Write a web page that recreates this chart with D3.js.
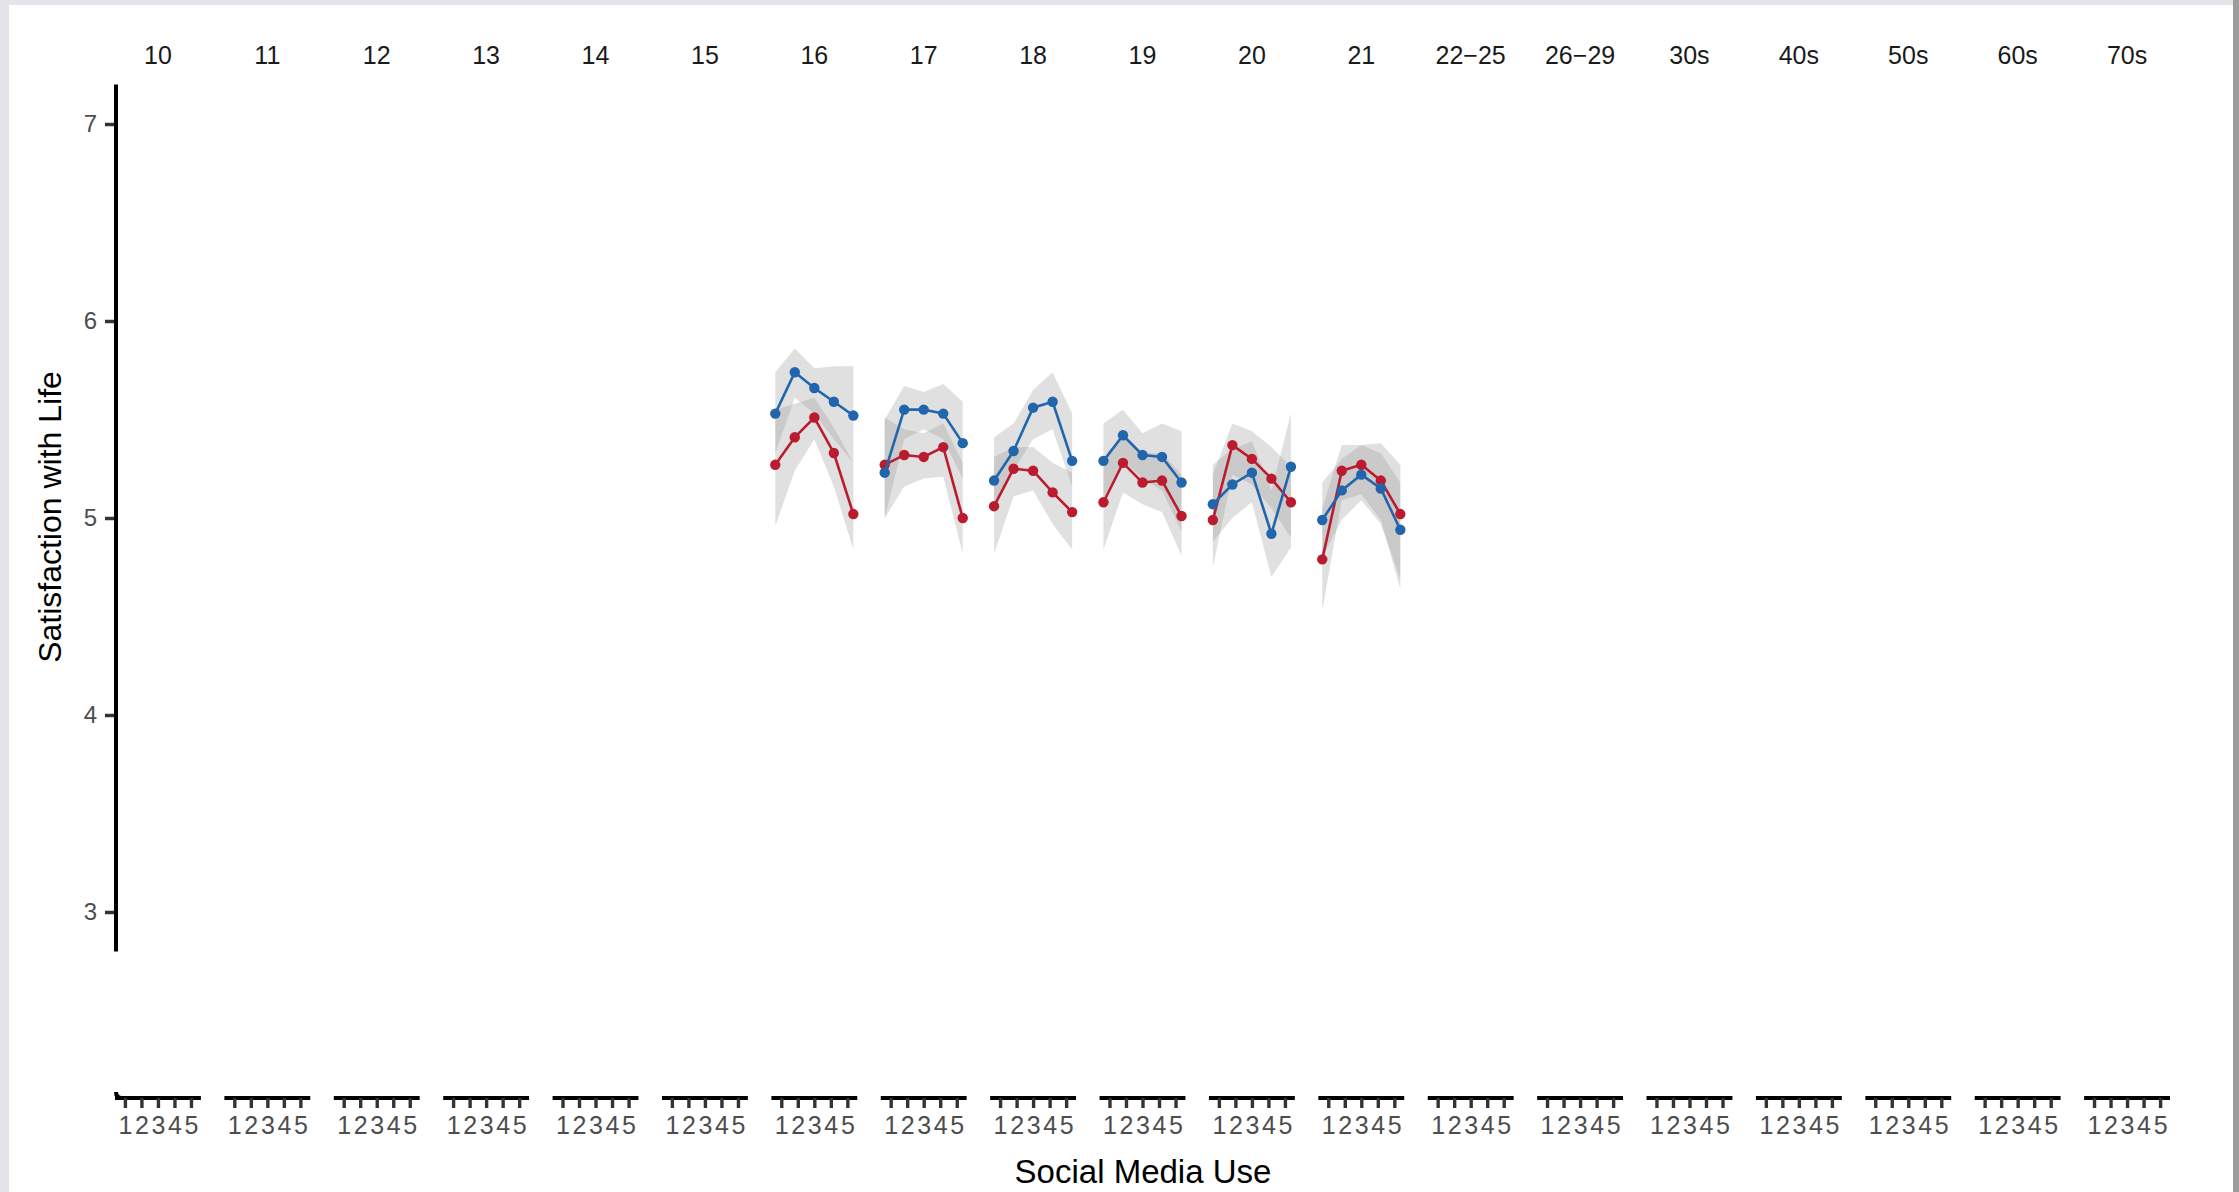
<!DOCTYPE html>
<html>
<head>
<meta charset="utf-8">
<script src="https://cdn.jsdelivr.net/npm/d3@7"></script>
<style>
  html, body { margin: 0; padding: 0; background: #ffffff; }
  svg { display: block; font-family: "Liberation Sans", Arial, Helvetica, sans-serif; }
</style>
</head>
<body>
<svg id="chart" width="2239" height="1192"></svg>
<script>
// Facet labels (age groups) across the top
const ageGroups = ["10", "11", "12", "13", "14", "15", "16", "17", "18", "19", "20", "21",
                   "22\u221225", "26\u221229", "30s", "40s", "50s", "60s", "70s"];
// Social media use levels (x within each facet)
const useLevels = [1, 2, 3, 4, 5];
// Y axis ticks
const yTicks = [3, 4, 5, 6, 7];

// Ages that carry observations
const observedAges = ["16", "17", "18", "19", "20", "21"];

// Blue series: mean and interval per age, one value per use level
const blueMean = [
  [5.53, 5.74, 5.66, 5.59, 5.52],
  [5.23, 5.55, 5.55, 5.53, 5.38],
  [5.19, 5.34, 5.56, 5.59, 5.29],
  [5.29, 5.42, 5.32, 5.31, 5.18],
  [5.07, 5.17, 5.23, 4.92, 5.26],
  [4.99, 5.14, 5.22, 5.15, 4.94]
];
const blueLow = [
  [5.33, 5.61, 5.53, 5.40, 5.28],
  [5.00, 5.40, 5.45, 5.40, 5.20],
  [5.08, 5.24, 5.40, 5.45, 5.16],
  [5.10, 5.29, 5.20, 5.14, 4.93],
  [4.88, 5.00, 5.08, 4.70, 4.85],
  [4.80, 4.99, 5.09, 4.97, 4.69]
];
const blueHigh = [
  [5.74, 5.86, 5.76, 5.77, 5.77],
  [5.50, 5.67, 5.64, 5.68, 5.59],
  [5.41, 5.48, 5.65, 5.74, 5.53],
  [5.48, 5.55, 5.43, 5.48, 5.44],
  [5.27, 5.35, 5.39, 5.14, 5.53],
  [5.18, 5.30, 5.37, 5.33, 5.18]
];

// Red series: mean and interval per age
const redMean = [
  [5.27, 5.41, 5.51, 5.33, 5.02],
  [5.27, 5.32, 5.31, 5.36, 5.00],
  [5.06, 5.25, 5.24, 5.13, 5.03],
  [5.08, 5.28, 5.18, 5.19, 5.01],
  [4.99, 5.37, 5.30, 5.20, 5.08],
  [4.79, 5.24, 5.27, 5.19, 5.02]
];
const redLow = [
  [4.96, 5.24, 5.40, 5.16, 4.84],
  [5.00, 5.16, 5.20, 5.21, 4.82],
  [4.82, 5.11, 5.14, 4.97, 4.84],
  [4.84, 5.13, 5.07, 5.03, 4.81],
  [4.75, 5.22, 5.17, 5.05, 4.90],
  [4.53, 5.09, 5.12, 4.99, 4.64]
];
const redHigh = [
  [5.55, 5.58, 5.61, 5.46, 5.28],
  [5.51, 5.45, 5.43, 5.48, 5.28],
  [5.31, 5.36, 5.36, 5.28, 5.23],
  [5.30, 5.42, 5.33, 5.33, 5.22],
  [5.22, 5.48, 5.44, 5.36, 5.26],
  [5.05, 5.37, 5.37, 5.38, 5.27]
];

const BLUE = "#2166ac";
const RED = "#bb1b2f";

const svg = d3.select("#chart");
const W = 2239, H = 1192;

// Window frame
svg.append("rect").attr("x", 0).attr("y", 0).attr("width", W).attr("height", H).attr("fill", "#e3e5ea");
svg.append("rect").attr("x", 9).attr("y", 5).attr("width", 2224).attr("height", H - 5).attr("fill", "#ffffff");
svg.append("rect").attr("x", 2233).attr("y", 0).attr("width", 6).attr("height", H).attr("fill", "#9c9c9c");

// Facet bands
const facet = d3.scaleBand().domain(ageGroups).range([115, 2170]).paddingInner(0.215).paddingOuter(0);

// Y scale shared by all facets
const y = d3.scaleLinear().domain([3, 7]).range([912, 124]);

// Discrete scale for the tick marks, continuous one for the drawn series
const xTick = d3.scalePoint().domain(useLevels).range([0, facet.bandwidth()]).padding(0.6);
const xData = d3.scaleLinear().domain([0.8, 5.2]).range([0, facet.bandwidth()]);

const axisY = 1098;
const FONT = "\"Liberation Sans\", Arial, sans-serif";

// Strip labels
svg.append("g").selectAll("text").data(ageGroups).join("text")
  .attr("x", d => facet(d) + facet.bandwidth() / 2)
  .attr("y", 55)
  .attr("text-anchor", "middle")
  .attr("dominant-baseline", "central")
  .attr("font-size", 25)
  .attr("fill", "#1a1a1a")
  .text(d => d);

// Y axis
const yAxisG = svg.append("g").attr("transform", "translate(116,0)");
yAxisG.call(d3.axisLeft(y).tickValues(yTicks).tickSize(11).tickPadding(8).tickFormat(d3.format("d")));
yAxisG.select(".domain").remove();
yAxisG.selectAll(".tick line").attr("stroke", "#333333").attr("stroke-width", 3.5);
yAxisG.selectAll(".tick text").attr("font-size", 24).attr("fill", "#4d4d4d").attr("font-family", FONT);
svg.append("line")
  .attr("x1", 116).attr("x2", 116)
  .attr("y1", y(7.2)).attr("y2", y(2.8))
  .attr("stroke", "#000").attr("stroke-width", 4);

// X axis for every facet
ageGroups.forEach(age => {
  const g = svg.append("g").attr("transform", `translate(${facet(age)},${axisY})`);
  g.call(d3.axisBottom(xTick).tickSize(10).tickPadding(8).tickSizeOuter(0));
  g.select(".domain").attr("stroke", "#000").attr("stroke-width", 4)
    .attr("d", `M0,0H${facet.bandwidth()}`);
  g.selectAll(".tick line").attr("stroke", "#333333").attr("stroke-width", 3.4);
  g.selectAll(".tick text").attr("font-size", 25).attr("fill", "#4d4d4d").attr("font-family", FONT);
});
// small hook joining the first x axis to the y axis
svg.append("path")
  .attr("d", `M116,${axisY - 6}Q116,${axisY} 122,${axisY}`)
  .attr("fill", "none").attr("stroke", "#000").attr("stroke-width", 4);

// Axis titles
svg.append("text")
  .attr("x", 1143).attr("y", 1171)
  .attr("text-anchor", "middle").attr("dominant-baseline", "central")
  .attr("font-size", 33).attr("fill", "#000")
  .text("Social Media Use");
svg.append("text")
  .attr("transform", "translate(50,517) rotate(-90)")
  .attr("text-anchor", "middle").attr("dominant-baseline", "central")
  .attr("font-size", 32).attr("fill", "#000")
  .text("Satisfaction with Life");

// Series
const series = [
  { color: RED, mean: redMean, low: redLow, high: redHigh },
  { color: BLUE, mean: blueMean, low: blueLow, high: blueHigh }
];

const ribbonLayer = svg.append("g");
const lineLayer = svg.append("g");

observedAges.forEach((age, ai) => {
  const x0 = facet(age);
  series.forEach(s => {
    const rows = useLevels.map((u, i) => ({ u, lo: s.low[ai][i], hi: s.high[ai][i] }));
    const area = d3.area()
      .x(d => x0 + xData(d.u))
      .y0(d => y(d.lo))
      .y1(d => y(d.hi));
    ribbonLayer.append("path")
      .attr("d", area(rows))
      .attr("fill", "#999999")
      .attr("fill-opacity", 0.3);
  });
});

observedAges.forEach((age, ai) => {
  const x0 = facet(age);
  series.forEach(s => {
    const rows = useLevels.map((u, i) => ({ u, m: s.mean[ai][i] }));
    const line = d3.line().x(d => x0 + xData(d.u)).y(d => y(d.m));
    lineLayer.append("path")
      .attr("d", line(rows))
      .attr("fill", "none")
      .attr("stroke", s.color)
      .attr("stroke-width", 2.6);
    lineLayer.append("g").selectAll("circle").data(rows).join("circle")
      .attr("cx", d => x0 + xData(d.u))
      .attr("cy", d => y(d.m))
      .attr("r", 5.2)
      .attr("fill", s.color);
  });
});
</script>
</body>
</html>
